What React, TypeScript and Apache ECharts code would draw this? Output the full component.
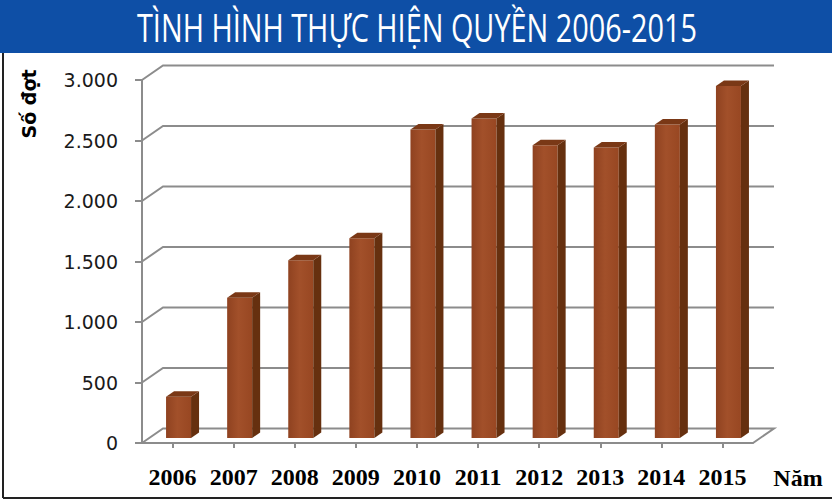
import React, { useEffect, useRef } from "react";
import * as echarts from "echarts";

const years = ["2006", "2007", "2008", "2009", "2010", "2011", "2012", "2013", "2014", "2015"];
const counts = [340, 1160, 1470, 1650, 2550, 2640, 2420, 2400, 2590, 2910];
const yTicks = [0, 500, 1000, 1500, 2000, 2500, 3000];
const titleText = "TÌNH HÌNH THỰC HIỆN QUYỀN 2006-2015";
const yName = "Số đợt";
const xName = "Năm";

const fmt = (v: number) =>
  v >= 1000 ? `${Math.floor(v / 1000)}.${String(v % 1000).padStart(3, "0")}` : String(v);

export default function App() {
  const ref = useRef<HTMLDivElement>(null);
  useEffect(() => {
    document.body.style.margin = "0";
    const chart = echarts.init(ref.current!, null, { renderer: "svg" });
    const DX = 21, DY = -14.5; // wall depth
    const BOX = 6, BOY = -5; // bar offset into depth
    const BDX = 8, BDY = -5.5; // bar depth
    const GRID = "#8c8c8c";
    chart.setOption({
      animation: false,
      backgroundColor: "#ffffff",
      grid: { left: 142, right: 79, top: 80, bottom: 60 },
      xAxis: {
        type: "category",
        data: years,
        axisLine: { show: true, lineStyle: { color: GRID, width: 2 } },
        axisTick: { show: true, alignWithLabel: true, interval: 0, length: 5, lineStyle: { color: GRID, width: 2 } },
        axisLabel: {
          interval: 0,
          margin: 22,
          color: "#000",
          fontFamily: "Liberation Serif",
          fontWeight: "bold",
          fontSize: 24,
        },
      },
      yAxis: {
        type: "value",
        min: 0,
        max: 3000,
        interval: 500,
        axisLine: { show: true, lineStyle: { color: GRID, width: 2 } },
        axisTick: { show: true, length: 7, lineStyle: { color: GRID, width: 2 } },
        splitLine: { show: false },
        axisLabel: {
          margin: 24,
          color: "#1a1a1a",
          fontFamily: "DejaVu Sans",
          fontSize: 19,
          formatter: (v: number) => fmt(v),
        },
      },
      series: [
        {
          type: "custom",
          silent: true,
          z: 1,
          data: yTicks.map((v) => [0, v]),
          renderItem: (params: any, api: any) => {
            const v = api.value(1);
            const p = api.coord([0, v]);
            const cs = params.coordSys;
            const x0 = cs.x, x1 = cs.x + cs.width, y = p[1];
            const pts = [[x0, y], [x0 + DX, y + DY], [x1 + DX, y + DY]];
            if (v === 0) pts.push([x1, y]);
            return {
              type: "polyline",
              shape: { points: pts },
              style: { stroke: GRID, lineWidth: 2, fill: null },
            };
          },
        },
        {
          type: "custom",
          silent: true,
          z: 3,
          data: counts.map((v, i) => [i, v]),
          renderItem: (params: any, api: any) => {
            const i = api.value(0);
            const v = api.value(1);
            const top = api.coord([i, v]);
            const base = api.coord([i, 0]);
            const w = 25;
            const cx = top[0] + BOX;
            const l = cx - w / 2, r = cx + w / 2;
            const yt = top[1] + BOY, yb = base[1] + BOY;
            return {
              type: "group",
              children: [
                {
                  type: "rect",
                  shape: { x: l, y: yt, width: w, height: yb - yt },
                  style: {
                    fill: new echarts.graphic.LinearGradient(0, 0, 1, 0, [
                      { offset: 0, color: "#8f4220" },
                      { offset: 0.45, color: "#a2502a" },
                      { offset: 1, color: "#984722" },
                    ]),
                  },
                },
                {
                  type: "polygon",
                  shape: { points: [[r, yt], [r + BDX, yt + BDY], [r + BDX, yb + BDY], [r, yb]] },
                  style: { fill: "#66300f" },
                },
                {
                  type: "polygon",
                  shape: { points: [[l, yt], [l + BDX, yt + BDY], [r + BDX, yt + BDY], [r, yt]] },
                  style: { fill: "#7a3816" },
                },
              ],
            };
          },
        },
      ],
      graphic: [
        { type: "rect", shape: { x: 0, y: 0, width: 832, height: 53 }, style: { fill: "#0e4fa6" }, z: 10 },
        {
          type: "text",
          x: 417,
          y: 27,
          scaleX: 0.74,
          z: 11,
          style: {
            text: titleText,
            fill: "#ffffff",
            fontFamily: "Open Sans",
            fontSize: 39,
            align: "center",
            verticalAlign: "middle",
          },
        },
        { type: "line", shape: { x1: 3, y1: 53, x2: 3, y2: 498 }, style: { stroke: "#222", lineWidth: 2 }, z: 10 },
        { type: "line", shape: { x1: 3, y1: 498, x2: 832, y2: 498 }, style: { stroke: "#222", lineWidth: 2 }, z: 10 },
        {
          type: "text",
          x: 29,
          y: 104,
          rotation: Math.PI / 2,
          z: 10,
          style: {
            text: yName,
            fill: "#000",
            fontFamily: "DejaVu Sans",
            fontWeight: "bold",
            fontSize: 19,
            align: "center",
            verticalAlign: "middle",
          },
        },
        {
          type: "text",
          x: 798,
          y: 478,
          z: 10,
          style: {
            text: xName,
            fill: "#000",
            fontFamily: "Liberation Serif",
            fontWeight: "bold",
            fontSize: 24,
            align: "center",
            verticalAlign: "middle",
          },
        },
      ],
    });
    return () => chart.dispose();
  }, []);
  return <div ref={ref} style={{ width: 832, height: 503 }} />;
}
